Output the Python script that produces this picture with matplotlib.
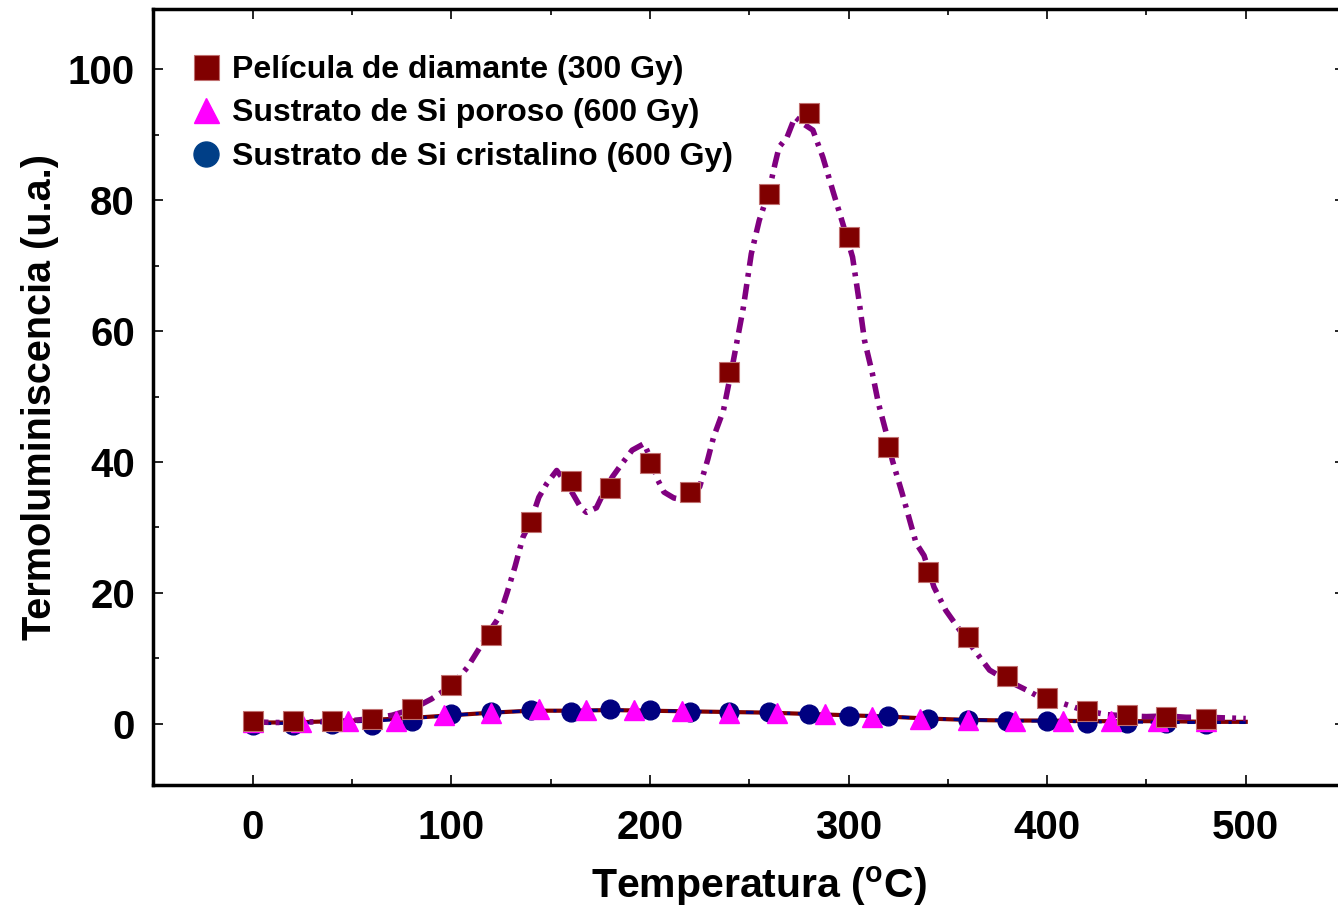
import matplotlib
matplotlib.use("Agg")
import matplotlib.pyplot as plt
from matplotlib.lines import Line2D
from matplotlib.ticker import MultipleLocator

plt.rcParams['font.family'] = ['Liberation Sans', 'DejaVu Sans']
plt.rcParams['font.weight'] = 'bold'
plt.rcParams['mathtext.fontset'] = 'custom'
plt.rcParams['mathtext.rm'] = 'Liberation Sans:bold'
plt.rcParams['mathtext.bf'] = 'Liberation Sans:bold'

# Diamond film (300 Gy): sampled points
diam_t = [0, 20, 40, 60, 80, 100, 120, 140, 160, 180, 200, 220, 240, 260,
          280, 300, 320, 340, 360, 380, 400, 420, 440, 460, 480]
diam_v = [0.5, 0.5, 0.4, 0.8, 2.2, 6.0, 13.5, 30.8, 37.1, 36.0, 39.8, 35.4,
          53.7, 80.9, 93.3, 74.3, 42.3, 23.2, 13.3, 7.3, 3.9, 1.9, 1.3, 1.0, 0.8]

# Diamond film: continuous glow curve
diam_curve_t = [0, 10, 20, 30, 40, 50, 60, 70, 80, 90,
                100, 108, 115, 120, 124, 128, 132, 136, 140, 144,
                148, 153, 156, 161, 165, 168, 173, 176, 181, 186,
                191, 197, 200, 204, 207, 212, 217, 221, 225, 229,
                232, 237, 242, 247, 251, 255, 260, 263, 265, 269,
                273, 277, 282, 287, 292, 297, 302, 305, 308, 312,
                315, 319, 322, 327, 334, 338, 343, 349, 356, 366,
                371, 380, 390, 396, 408, 415, 423, 430, 440, 450,
                460, 470, 480, 490, 500]
diam_curve_v = [0.3, 0.2, 0.2, 0.3, 0.4, 0.5, 0.8, 1.3, 2.2, 3.8,
                5.8, 8.6, 12.0, 14.5, 16.3, 20.0, 24.0, 28.5, 31.0, 34.6,
                36.7, 38.7, 37.5, 35.2, 33.1, 32.3, 33.0, 34.9, 37.7, 39.8,
                41.8, 42.8, 40.7, 37.2, 35.4, 34.5, 34.2, 35.0, 36.2, 40.3,
                43.8, 47.9, 55.5, 63.6, 71.8, 76.9, 81.5, 85.6, 88.1, 89.6,
                92.7, 91.7, 90.7, 86.6, 81.5, 76.5, 71.3, 65.2, 58.6, 53.5,
                49.0, 44.4, 40.3, 35.2, 27.6, 25.7, 20.9, 17.3, 14.3, 10.2,
                8.2, 6.6, 5.1, 4.1, 3.1, 2.4, 1.8, 1.4, 1.2, 1.1,
                1.2, 1.0, 1.0, 0.9, 0.8]

# Porous Si substrate (600 Gy)
por_t = [0, 24, 48, 72, 96, 120, 144, 168, 192, 216, 240, 264, 288, 312,
         336, 360, 384, 408, 432, 456, 480]
por_v = [0.3, 0.3, 0.4, 0.5, 1.3, 1.7, 2.2, 2.1, 2.1, 2.0, 1.6, 1.6, 1.5, 1.0,
         0.7, 0.6, 0.5, 0.5, 0.4, 0.4, 0.4]

# Crystalline Si substrate (600 Gy)
cri_t = [0, 20, 40, 60, 80, 100, 120, 140, 160, 180, 200, 220, 240, 260,
         280, 300, 320, 340, 360, 380, 400, 420, 440, 460, 480]
cri_v = [-0.2, -0.2, 0.0, -0.2, 0.5, 1.5, 1.8, 2.1, 1.8, 2.2, 2.1, 1.8, 1.8,
         1.8, 1.45, 1.2, 1.2, 0.7, 0.6, 0.5, 0.4, 0.1, 0.1, 0.1, 0.0]

# Substrate glow curves
sub_curve_t = [0, 20, 40, 60, 80, 100, 120, 140, 160, 180, 200, 220, 240,
               260, 280, 300, 320, 340, 360, 380, 400, 420, 440, 460, 480, 500]
por_curve_v = [0.2, 0.2, 0.4, 0.6, 0.9, 1.3, 1.7, 2.0, 2.0, 2.1, 2.0, 1.9, 1.8,
               1.7, 1.5, 1.3, 1.1, 0.8, 0.6, 0.5, 0.5, 0.4, 0.4, 0.4, 0.3, 0.3]
cri_curve_v = [0.0, 0.1, 0.2, 0.4, 0.8, 1.3, 1.7, 2.0, 2.0, 2.1, 2.0, 1.9, 1.8,
               1.7, 1.5, 1.3, 1.1, 0.8, 0.6, 0.5, 0.4, 0.3, 0.3, 0.2, 0.2, 0.2]

labels = ["Película de diamante (300 Gy)",
          "Sustrato de Si poroso (600 Gy)",
          "Sustrato de Si cristalino (600 Gy)"]

W, H = 1338, 908
fig = plt.figure(figsize=(W / 100, H / 100), dpi=100)
ax = fig.add_axes([153 / W, (H - 785) / H, (1345 - 153) / W, (785 - 9) / H])

# curves
ax.plot(sub_curve_t, por_curve_v, color='#800000', lw=3.0, zorder=2)
ax.plot(sub_curve_t, cri_curve_v, color='#000080', lw=2.2,
        linestyle=(0, (2.5, 2.5, 1, 2.5)), zorder=2.1)
ax.plot(diam_curve_t, diam_curve_v, color='#800080', lw=4.0,
        linestyle=(0, (2.8, 1.3, 0.7, 1.3)), zorder=2.2)

# markers
ax.plot(cri_t, cri_v, linestyle='none', marker='o', ms=13.5,
        color='#000080', mec='#000080', zorder=3)
ax.plot(por_t, por_v, linestyle='none', marker='^', ms=14.5,
        color='#FF00FF', mec='#FF00FF', zorder=4)
ax.plot(diam_t, diam_v, linestyle='none', marker='s', ms=14.5,
        color='#800000', mec='#c07070', mew=0.8, zorder=5)

ax.set_xlim(-50.3, 550)
ax.set_ylim(-9.35, 109.2)

ax.xaxis.set_major_locator(MultipleLocator(100))
ax.xaxis.set_minor_locator(MultipleLocator(50))
ax.yaxis.set_major_locator(MultipleLocator(20))
ax.yaxis.set_minor_locator(MultipleLocator(10))

for s in ax.spines.values():
    s.set_linewidth(2.5)

ax.tick_params(which='both', direction='in', top=True, right=True,
               width=1.2, colors='black')
ax.tick_params(which='major', length=7.5, labelsize=29)
ax.tick_params(which='minor', length=4.5)
ax.tick_params(axis='x', which='major', pad=17.5)
ax.tick_params(axis='y', which='major', pad=13)

for lab in ax.get_xticklabels() + ax.get_yticklabels():
    lab.set_fontweight('bold')

ax.set_xlabel(r"Temperatura ($^{\mathrm{o}}$C)", fontsize=29.5,
              fontweight='bold')
ax.xaxis.set_label_coords((759 - 153) / 1192, -(864 - 785) / 776)
ax.set_ylabel("Termoluminiscencia (u.a.)", fontsize=28.5,
              fontweight='bold', labelpad=6)

handles = [
    Line2D([], [], linestyle='none', marker='s', ms=18, color='#800000',
           mec='#c07070', mew=0.8),
    Line2D([], [], linestyle='none', marker='^', ms=18, color='#FF00FF'),
    Line2D([], [], linestyle='none', marker='o', ms=18, color='#003F87'),
]
leg = ax.legend(handles, labels, loc='upper left',
                bbox_to_anchor=(190 / W, 1 - 55 / H),
                bbox_transform=fig.transFigure, frameon=False,
                borderpad=0, borderaxespad=0, handlelength=1.0,
                handletextpad=0.3, labelspacing=0.42,
                prop={'family': ['Liberation Sans', 'DejaVu Sans'],
                      'weight': 'bold', 'size': 23})

fig.savefig("out.png", dpi=100)
